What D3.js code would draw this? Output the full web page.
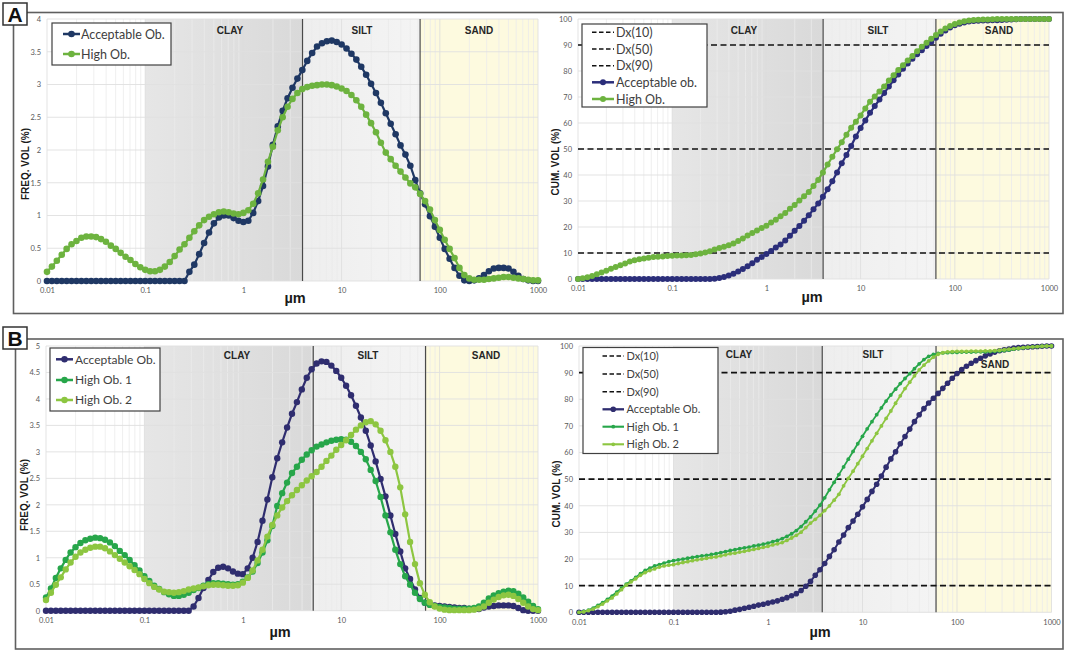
<!DOCTYPE html>
<html><head><meta charset="utf-8">
<script src="https://cdn.jsdelivr.net/npm/d3@7"></script>
<style>body{margin:0;background:#fff}svg{display:block}</style>
</head><body>
<svg id="chart" width="1065" height="652"></svg>
<script>
// ---------- DATA ----------
const sizes = [
0.01,0.01122,0.01259,0.01413,0.01585,0.01778,0.01995,0.02239,0.02512,0.02818,
0.03162,0.03548,0.03981,0.04467,0.05012,0.05623,0.0631,0.07079,0.07943,0.08913,
0.1,0.1122,0.1259,0.1413,0.1585,0.1778,0.1995,0.2239,0.2512,0.2818,
0.3162,0.3548,0.3981,0.4467,0.5012,0.5623,0.631,0.7079,0.7943,0.8913,
1,1.122,1.259,1.413,1.585,1.778,1.995,2.239,2.512,2.818,
3.162,3.548,3.981,4.467,5.012,5.623,6.31,7.079,7.943,8.913,
10,11.22,12.59,14.13,15.85,17.78,19.95,22.39,25.12,28.18,
31.62,35.48,39.81,44.67,50.12,56.23,63.1,70.79,79.43,89.13,
100,112.2,125.9,141.3,158.5,177.8,199.5,223.9,251.2,281.8,
316.2,354.8,398.1,446.7,501.2,562.3,631,707.9,794.3,891.3,
1000];

// Panel A - frequency
const aFreqAcceptable = [
0,0,0,0,0,0,0,0,0,0,
0,0,0,0,0,0,0,0,0,0,
0,0,0,0,0,0,0,0,0,0.14,
0.25,0.41,0.58,0.74,0.88,0.97,1.0,1.0,0.96,0.92,
0.9,0.92,1.04,1.22,1.45,1.75,2.08,2.36,2.6,2.79,
2.95,3.09,3.22,3.36,3.48,3.58,3.63,3.66,3.67,3.65,
3.61,3.55,3.47,3.38,3.27,3.15,3.01,2.87,2.72,2.56,
2.4,2.24,2.07,1.93,1.76,1.54,1.34,1.17,0.99,0.83,
0.66,0.49,0.34,0.2,0.08,0.01,0,0.01,0.04,0.09,
0.15,0.19,0.2,0.2,0.19,0.14,0.08,0.03,0.01,0,
0];
const aFreqHigh = [
0.14,0.22,0.31,0.4,0.49,0.56,0.61,0.66,0.68,0.68,
0.67,0.64,0.6,0.54,0.49,0.43,0.37,0.32,0.26,0.21,
0.17,0.15,0.15,0.17,0.22,0.29,0.38,0.48,0.56,0.66,
0.76,0.85,0.93,0.98,1.02,1.05,1.06,1.05,1.03,1.02,
1.04,1.08,1.18,1.34,1.55,1.82,2.05,2.3,2.5,2.66,
2.78,2.87,2.93,2.96,2.98,2.99,3.0,3.0,2.99,2.97,
2.94,2.9,2.84,2.76,2.66,2.54,2.41,2.27,2.11,1.96,
1.86,1.76,1.67,1.58,1.49,1.43,1.33,1.22,1.09,0.93,
0.78,0.63,0.49,0.35,0.2,0.09,0.04,0.02,0.02,0.02,
0.03,0.04,0.05,0.06,0.06,0.05,0.04,0.03,0.02,0.01,
0.01];
// Panel A - cumulative
const aCumAcceptable = [
0,0,0,0,0,0,0,0,0,0,
0,0,0,0,0,0,0,0,0,0,
0,0,0,0,0,0,0,0,0,0.1,
0.4,0.8,1.3,2.0,2.9,3.8,4.9,6.1,7.4,8.5,
9.6,10.8,12.1,13.3,14.8,16.6,18.6,20.4,22.4,24.5,
26.8,29.0,31.6,34.5,37.6,41.0,44.5,47.7,51.2,54.8,
58.1,61.0,63.9,66.5,69.0,71.5,74.0,76.4,78.7,80.9,
82.9,84.7,86.4,88.0,89.6,91.2,92.8,94.3,95.6,96.7,
97.6,98.2,98.7,99.0,99.2,99.3,99.4,99.4,99.5,99.5,
99.6,99.7,99.8,99.9,100,100,100,100,100,100,
100];
const aCumHigh = [
0,0.3,0.7,1.2,1.8,2.5,3.2,3.9,4.6,5.3,
6.0,6.7,7.2,7.6,7.9,8.2,8.5,8.6,8.7,8.8,
8.9,9.0,9.0,9.1,9.2,9.5,9.8,10.2,10.7,11.3,
11.9,12.4,13.0,13.7,14.6,15.6,16.7,17.7,18.7,19.6,
20.5,21.7,22.8,24.1,25.4,27.0,28.5,30.2,31.8,33.5,
35.8,38.1,41.0,44.0,47.0,49.9,52.6,55.5,58.2,60.5,
62.9,65.6,68.2,70.2,72.1,74.0,76.3,78.4,80.4,82.2,
84.0,85.8,87.6,89.3,90.9,92.4,93.8,95.2,96.3,97.3,
98.1,98.7,99.1,99.4,99.6,99.7,99.8,99.8,99.9,100,
100,100,100,100,100,100,100,100,100,100,
100];

// Panel B - frequency
const bFreqAcceptable = [
0,0,0,0,0,0,0,0,0,0,
0,0,0,0,0,0,0,0,0,0,
0,0,0,0,0,0,0,0,0,0,
0.08,0.24,0.43,0.58,0.73,0.81,0.83,0.8,0.74,0.7,
0.69,0.8,1.0,1.3,1.7,2.1,2.52,2.88,3.18,3.46,
3.72,3.94,4.18,4.4,4.56,4.67,4.71,4.7,4.63,4.53,
4.4,4.25,4.07,3.87,3.65,3.4,3.12,2.82,2.49,2.16,
1.8,1.45,1.12,0.8,0.6,0.4,0.24,0.15,0.12,0.1,
0.09,0.08,0.07,0.06,0.05,0.05,0.04,0.03,0.03,0.06,
0.08,0.09,0.1,0.1,0.1,0.09,0.05,0.01,0,0,
0];
const bFreqHigh1 = [
0.25,0.42,0.62,0.8,0.96,1.1,1.2,1.28,1.33,1.36,
1.38,1.37,1.34,1.29,1.22,1.13,1.05,0.96,0.86,0.76,
0.65,0.56,0.47,0.41,0.35,0.31,0.28,0.28,0.3,0.34,
0.39,0.43,0.47,0.5,0.52,0.52,0.51,0.5,0.49,0.5,
0.55,0.63,0.74,0.9,1.1,1.33,1.6,1.98,2.22,2.42,
2.6,2.72,2.85,2.95,3.03,3.1,3.14,3.18,3.21,3.23,
3.24,3.23,3.19,3.11,3.0,2.86,2.66,2.45,2.15,1.8,
1.48,1.15,0.88,0.65,0.49,0.34,0.22,0.15,0.11,0.09,
0.07,0.06,0.05,0.04,0.04,0.04,0.04,0.05,0.08,0.15,
0.23,0.29,0.33,0.36,0.38,0.37,0.32,0.25,0.17,0.09,
0.03];
const bFreqHigh2 = [
0.2,0.34,0.49,0.63,0.78,0.91,1.02,1.1,1.15,1.19,
1.21,1.21,1.18,1.12,1.05,0.98,0.91,0.84,0.77,0.69,
0.6,0.52,0.45,0.4,0.36,0.35,0.34,0.35,0.37,0.4,
0.42,0.44,0.46,0.48,0.49,0.49,0.48,0.47,0.47,0.48,
0.53,0.62,0.76,0.95,1.15,1.4,1.62,1.8,1.95,2.07,
2.18,2.28,2.37,2.46,2.54,2.62,2.72,2.83,2.93,3.04,
3.13,3.22,3.32,3.42,3.5,3.56,3.58,3.52,3.4,3.22,
3.0,2.72,2.33,1.82,1.3,0.88,0.52,0.3,0.16,0.08,
0.04,0.02,0.01,0.01,0.01,0.01,0.01,0.02,0.04,0.08,
0.15,0.21,0.26,0.29,0.3,0.28,0.22,0.15,0.08,0.03,
0.01];
// Panel B - cumulative
const bCumAcceptable = [
0,0,0,0,0,0,0,0,0,0,
0,0,0,0,0,0,0,0,0,0,
0,0,0,0,0,0,0,0,0,0,
0.05,0.2,0.4,0.8,1.1,1.5,1.9,2.3,2.7,3.05,
3.45,3.85,4.3,4.9,5.5,6.2,7.0,8.2,9.8,11.6,
13.9,16.0,18.3,21.0,23.5,26.4,29.0,31.8,34.3,36.8,
39.6,42.4,45.4,48.1,51.2,54.5,57.6,60.3,63.3,66.0,
68.8,71.6,74.2,76.5,78.6,80.4,82.2,84.1,86.0,87.9,
89.7,91.2,92.4,93.5,94.5,95.4,96.3,97.0,97.7,98.2,
98.6,98.9,99.2,99.4,99.5,99.6,99.7,99.8,99.9,100,
100];
const bCumHigh1 = [
0,0.3,0.8,1.6,2.6,3.6,4.8,6.1,7.6,9.1,
10.6,11.8,13.1,14.5,15.7,16.6,17.4,17.9,18.5,19.0,
19.4,19.7,20.0,20.3,20.6,20.9,21.2,21.4,21.7,22.0,
22.4,22.8,23.2,23.5,23.9,24.2,24.5,24.9,25.2,25.6,
26.0,26.5,27.0,27.7,28.5,29.5,30.7,32.2,34.0,35.8,
38.0,40.2,43.0,46.0,48.8,51.7,54.6,57.5,60.4,63.3,
66.1,68.9,71.6,74.2,76.8,79.3,81.6,83.8,85.9,87.8,
89.6,91.5,93.3,94.9,96.1,96.8,97.2,97.4,97.5,97.6,
97.6,97.7,97.7,97.7,97.8,97.8,97.8,97.9,98.0,98.1,
98.3,98.5,98.8,99.0,99.3,99.5,99.7,99.8,99.9,100,
100];
const bCumHigh2 = [
0,0.15,0.6,1.2,2.1,3.1,4.3,5.4,6.9,8.5,
10.2,11.4,12.6,13.9,14.9,15.7,16.3,17.0,17.4,17.7,
17.9,18.3,18.7,19.0,19.4,19.7,20.0,20.3,20.6,20.8,
21.2,21.6,22.0,22.2,22.6,22.9,23.3,23.6,24.0,24.4,
24.8,25.3,25.7,26.2,27.0,27.9,28.9,30.1,31.8,33.5,
34.9,36.4,38.2,40.0,42.1,44.3,47.5,50.3,53.0,55.8,
58.6,61.5,64.4,67.2,70.0,72.8,75.6,78.5,81.3,84.0,
86.4,88.8,91.0,92.8,94.4,95.8,96.9,97.5,97.8,97.9,
98.0,98.0,98.0,98.1,98.1,98.1,98.2,98.2,98.3,98.4,
98.6,98.8,99.0,99.2,99.4,99.6,99.7,99.8,99.9,100,
100];

const xTickValues = [0.01, 0.1, 1, 10, 100, 1000];
const xTickLabels = ["0.01", "0.1", "1", "10", "100", "1000"];
const freqTicksA = [0, 0.5, 1, 1.5, 2, 2.5, 3, 3.5, 4];
const freqTicksB = [0, 0.5, 1, 1.5, 2, 2.5, 3, 3.5, 4, 4.5, 5];
const cumTicks = [0, 10, 20, 30, 40, 50, 60, 70, 80, 90, 100];
const dxLevels = [10, 50, 90];
const dxNames = ["Dx(10)", "Dx(50)", "Dx(90)"];
const zoneNames = ["CLAY", "SILT", "SAND"];
// zone limits (µm): clay start, clay/silt, silt/sand, end
const zonesAFreq = [0.1, 4, 63, 1000];
const zonesACum = [0.1, 4, 63, 1000];
const zonesBFreq = [0.1, 5.2, 72, 1000];
const zonesBCum = [0.1, 3.75, 60, 1000];

// ---------- STYLE ----------
const C = {
  aNavy: "#1f3864", aGreen: "#6db33f", aNavy2: "#2b2e7a",
  bNavy: "#2f2d6f", bG1: "#27a64a", bG2: "#8dc641"
};

const svg = d3.select("#chart");
const defs = svg.append("defs");
const cg = defs.append("linearGradient").attr("id", "clayGrad").attr("x1", 0).attr("x2", 1).attr("y1", 0).attr("y2", 0);
cg.append("stop").attr("offset", 0).attr("stop-color", "#e6e6e6");
cg.append("stop").attr("offset", 1).attr("stop-color", "#d9d9d9");
const sg = defs.append("linearGradient").attr("id", "siltGrad").attr("x1", 0).attr("x2", 1).attr("y1", 0).attr("y2", 0);
sg.append("stop").attr("offset", 0).attr("stop-color", "#eeeeee");
sg.append("stop").attr("offset", 1).attr("stop-color", "#f4f4f4");

// outer frames
svg.append("rect").attr("x", 13.5).attr("y", 12.5).attr("width", 1049.5).attr("height", 301).attr("fill", "none").attr("stroke", "#5f5f5f").attr("stroke-width", 1.6);
svg.append("rect").attr("x", 15.5).attr("y", 339).attr("width", 1047.5).attr("height", 310).attr("fill", "none").attr("stroke", "#5f5f5f").attr("stroke-width", 1.6);

const panels = [
  { left: 47, right: 538, top: 19, bottom: 281, yMax: 4, yTicks: freqTicksA, zones: zonesAFreq,
    title: "FREQ. VOL (%)", titleX: 25, titleY: 164, zoneY: [34, 34, 34], zoneX: [230, 362, 479],
    umX: 295, umY: 303, dashed: false,
    series: [
      { name: "Acceptable Ob.", values: aFreqAcceptable, color: C.aNavy, lw: 2.2, r: 3.3 },
      { name: "High Ob.", values: aFreqHigh, color: C.aGreen, lw: 2.2, r: 3.3 }],
    legend: { box: [52, 23, 119, 42], ys: [34, 54], sx: [63, 80], tx: 81, fs: 12.5 } },
  { left: 578, right: 1049, top: 19, bottom: 279, yMax: 100, yTicks: cumTicks, zones: zonesACum,
    title: "CUM. VOL (%)", titleX: 555, titleY: 162, zoneY: [34, 34, 34], zoneX: [744, 878, 999],
    umX: 812, umY: 302, dashed: true,
    series: [
      { name: "Acceptable ob.", values: aCumAcceptable, color: C.aNavy2, lw: 2.2, r: 3.0 },
      { name: "High Ob.", values: aCumHigh, color: C.aGreen, lw: 2.2, r: 3.0 }],
    legend: { box: [582, 24, 125, 83], ys: [32.3, 49, 65.7, 82.3, 99], sx: [592, 614], tx: 616, fs: 12.5 } },
  { left: 46, right: 538, top: 346, bottom: 610.7, yMax: 5, yTicks: freqTicksB, zones: zonesBFreq,
    title: "FREQ. VOL (%)", titleX: 24, titleY: 495, zoneY: [359, 359, 359], zoneX: [237, 368, 486],
    umX: 280, umY: 637, dashed: false,
    series: [
      { name: "Acceptable Ob.", values: bFreqAcceptable, color: C.bNavy, lw: 2.2, r: 3.2 },
      { name: "High Ob. 1", values: bFreqHigh1, color: C.bG1, lw: 2.2, r: 3.2 },
      { name: "High Ob. 2", values: bFreqHigh2, color: C.bG2, lw: 2.2, r: 3.2 }],
    legend: { box: [50, 348, 110, 63], ys: [359.3, 380, 400], sx: [56, 73], tx: 75, fs: 12 } },
  { left: 579, right: 1051.5, top: 346, bottom: 612.3, yMax: 100, yTicks: cumTicks, zones: zonesBCum,
    title: "CUM. VOL (%)", titleX: 556, titleY: 494, zoneY: [357.5, 357.5, 367.5], zoneX: [739, 873, 995],
    umX: 820, umY: 637, dashed: true,
    series: [
      { name: "Acceptable Ob.", values: bCumAcceptable, color: C.bNavy, lw: 2.0, r: 2.8 },
      { name: "High Ob. 1", values: bCumHigh1, color: C.bG1, lw: 1.8, r: 1.9 },
      { name: "High Ob. 2", values: bCumHigh2, color: C.bG2, lw: 1.8, r: 1.9 }],
    legend: { box: [583, 347.5, 135, 106], ys: [356, 374, 391.7, 409.3, 426.7, 444.3], sx: [602.5, 624], tx: 626.5, fs: 11 } }
];

function drawPanel(p) {
  const x = d3.scaleLog().domain([0.01, 1000]).range([p.left, p.right]);
  const y = d3.scaleLinear().domain([0, p.yMax]).range([p.bottom, p.top]);
  const g = svg.append("g");
  const z = p.zones, h = p.bottom - p.top;
  g.append("rect").attr("x", x(z[0])).attr("y", p.top).attr("width", x(z[1]) - x(z[0])).attr("height", h).attr("fill", "url(#clayGrad)");
  g.append("rect").attr("x", x(z[1])).attr("y", p.top).attr("width", x(z[2]) - x(z[1])).attr("height", h).attr("fill", "url(#siltGrad)");
  g.append("rect").attr("x", x(z[2])).attr("y", p.top).attr("width", x(z[3]) - x(z[2])).attr("height", h).attr("fill", "#fdfadf");

  // grid
  const vt = x.ticks();
  g.selectAll(null).data(vt).enter().append("line")
    .attr("x1", d => x(d)).attr("x2", d => x(d)).attr("y1", p.top).attr("y2", p.bottom)
    .attr("stroke", d => xTickValues.some(v => Math.abs(v - d) / v < 1e-6) ? "#dcdcdc" : "#ebebeb")
    .attr("stroke-width", 0.8);
  g.selectAll(null).data(p.yTicks).enter().append("line")
    .attr("x1", p.left).attr("x2", p.right).attr("y1", d => y(d)).attr("y2", d => y(d))
    .attr("stroke", "#e0e0e0").attr("stroke-width", 0.9);

  // boundaries
  [z[1], z[2]].forEach(v => {
    g.append("line").attr("x1", x(v)).attr("x2", x(v)).attr("y1", p.top).attr("y2", p.bottom)
      .attr("stroke", "#4a4a4a").attr("stroke-width", 1.2);
  });

  // zone labels
  zoneNames.forEach((n, i) => {
    g.append("text").attr("x", p.zoneX[i]).attr("y", p.zoneY[i]).attr("text-anchor", "middle")
      .attr("font-family", "Liberation Sans, Arial, sans-serif").attr("font-weight", "bold")
      .attr("font-size", 10).attr("fill", "#262626").text(n);
  });

  // axes
  const ax = g.append("g").attr("transform", `translate(0,${p.bottom})`)
    .call(d3.axisBottom(x).tickValues(xTickValues).tickFormat((d, i) => xTickLabels[i]).tickSize(0).tickPadding(7));
  ax.select(".domain").remove();
  ax.selectAll("text").attr("font-family", "Lato, sans-serif").attr("font-size", 7.5).attr("fill", "#595959");
  const ay = g.append("g").attr("transform", `translate(${p.left},0)`)
    .call(d3.axisLeft(y).tickValues(p.yTicks).tickFormat(d => String(d)).tickSize(0).tickPadding(6));
  ay.select(".domain").remove();
  ay.selectAll("text").attr("font-family", "Lato, sans-serif").attr("font-size", 7.5).attr("fill", "#595959");

  g.append("text").attr("transform", `translate(${p.titleX},${p.titleY}) rotate(-90)`)
    .attr("text-anchor", "middle").attr("dominant-baseline", "central")
    .attr("font-family", "Liberation Sans, Arial, sans-serif").attr("font-weight", "bold")
    .attr("font-size", 10).attr("fill", "#1a1a1a").text(p.title);
  g.append("text").attr("x", p.umX).attr("y", p.umY).attr("text-anchor", "middle")
    .attr("font-family", "Liberation Sans, Arial, sans-serif").attr("font-weight", "bold")
    .attr("font-size", 14.5).attr("fill", "#1a1a1a").text("µm");

  // dashed Dx lines
  if (p.dashed) {
    g.selectAll(null).data(dxLevels).enter().append("line")
      .attr("x1", p.left).attr("x2", p.right).attr("y1", d => y(d)).attr("y2", d => y(d))
      .attr("stroke", "#111").attr("stroke-width", 1.6).attr("stroke-dasharray", "6,3.5");
  }

  // series
  p.series.forEach(s => {
    const pts = sizes.map((d, i) => [d, s.values[i]]).filter(d => d[1] != null);
    g.append("path").attr("d", d3.line().x(d => x(d[0])).y(d => y(d[1]))(pts))
      .attr("fill", "none").attr("stroke", s.color).attr("stroke-width", s.lw).attr("stroke-linejoin", "round");
    g.selectAll(null).data(pts).enter().append("circle")
      .attr("cx", d => x(d[0])).attr("cy", d => y(d[1])).attr("r", s.r).attr("fill", s.color);
  });

  // legend
  const L = p.legend;
  const lg = svg.append("g");
  lg.append("rect").attr("x", L.box[0]).attr("y", L.box[1]).attr("width", L.box[2]).attr("height", L.box[3])
    .attr("fill", "#fff").attr("stroke", "#404040").attr("stroke-width", 1.2);
  const items = [];
  if (p.dashed) dxNames.forEach(n => items.push({ name: n, dash: true }));
  p.series.forEach(s => items.push({ name: s.name, color: s.color, lw: s.lw, r: s.r }));
  items.forEach((it, i) => {
    const yy = L.ys[i];
    if (it.dash) {
      lg.append("line").attr("x1", L.sx[0]).attr("x2", L.sx[1]).attr("y1", yy).attr("y2", yy)
        .attr("stroke", "#111").attr("stroke-width", 1.4).attr("stroke-dasharray", "4.5,2.5");
    } else {
      lg.append("line").attr("x1", L.sx[0]).attr("x2", L.sx[1]).attr("y1", yy).attr("y2", yy)
        .attr("stroke", it.color).attr("stroke-width", it.lw + 0.3);
      lg.append("circle").attr("cx", (L.sx[0] + L.sx[1]) / 2).attr("cy", yy).attr("r", it.r).attr("fill", it.color);
    }
    lg.append("text").attr("x", L.tx).attr("y", yy + L.fs * 0.36)
      .attr("font-family", "Lato, sans-serif").attr("font-size", L.fs).attr("fill", "#404040").text(it.name);
  });
}

panels.forEach(drawPanel);

// panel labels
[["A", 3, 3], ["B", 3, 327]].forEach(([t, lx, ly]) => {
  svg.append("rect").attr("x", lx).attr("y", ly).attr("width", 24).attr("height", 22)
    .attr("fill", "#fff").attr("stroke", "#333").attr("stroke-width", 1.5);
  svg.append("text").attr("x", lx + 12).attr("y", ly + 18.5).attr("text-anchor", "middle")
    .attr("font-family", "Liberation Sans, Arial, sans-serif").attr("font-weight", "bold")
    .attr("font-size", 21).attr("fill", "#111").text(t);
});
</script>
</body></html>
